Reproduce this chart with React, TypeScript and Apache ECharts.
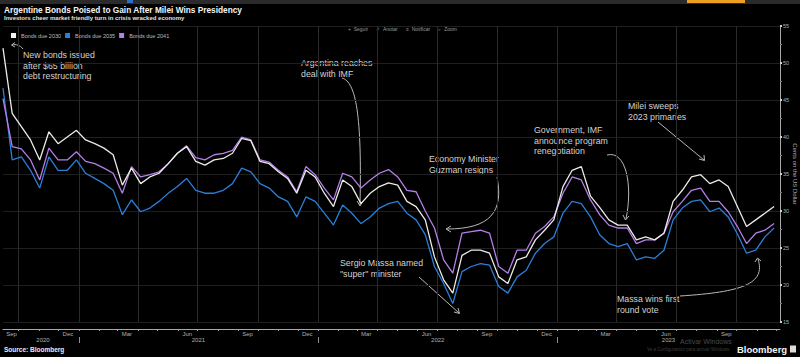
import React, { useEffect, useRef } from 'react';
import * as echarts from 'echarts';

// ---- data ----
const startDate = '2020-09-07';
const stepDays = 14;
const bonds2030 = [52.0, 43.2, 41.4, 39.6, 36.9, 40.7, 39.1, 40.0, 40.9, 39.6, 39.1, 38.5, 37.6, 33.5, 35.8, 33.7, 34.6, 35.1, 36.4, 37.8, 38.7, 36.7, 36.2, 36.9, 37.1, 37.8, 39.8, 39.5, 36.7, 36.4, 35.3, 34.4, 32.4, 35.5, 34.6, 32.4, 30.6, 34.2, 33.3, 31.0, 32.4, 33.3, 33.8, 33.5, 31.3, 30.6, 28.8, 23.8, 20.7, 18.9, 24.0, 24.7, 24.7, 24.3, 21.1, 20.2, 23.4, 23.8, 26.1, 27.4, 28.8, 33.3, 35.5, 36.0, 32.0, 30.5, 28.8, 28.1, 28.1, 26.1, 26.5, 26.1, 27.0, 31.3, 32.8, 34.6, 34.9, 33.7, 34.2, 33.3, 30.6, 27.9, 28.8, 29.7, 30.6];
const bonds2035 = [46.6, 36.9, 37.3, 35.5, 33.1, 37.3, 35.5, 35.5, 36.9, 35.1, 34.4, 33.7, 32.8, 29.5, 31.5, 29.9, 30.4, 31.3, 32.4, 33.3, 34.4, 32.8, 32.4, 32.4, 32.8, 33.7, 35.8, 35.3, 33.7, 33.1, 31.9, 31.3, 29.2, 31.9, 31.3, 29.7, 28.1, 30.8, 29.7, 28.3, 29.2, 30.4, 31.0, 31.3, 29.7, 28.8, 26.8, 22.5, 20.2, 17.5, 21.8, 22.5, 22.9, 22.7, 19.8, 18.9, 21.1, 22.0, 24.3, 25.6, 26.5, 29.7, 31.3, 31.0, 29.2, 26.8, 25.6, 25.2, 25.6, 23.4, 23.8, 23.6, 24.7, 28.8, 30.4, 31.3, 31.5, 29.9, 30.4, 29.2, 26.9, 24.3, 24.7, 26.5, 27.7];
const bonds2041 = [45.2, 38.7, 38.4, 36.9, 34.2, 38.5, 36.9, 36.9, 38.0, 36.7, 36.4, 35.8, 35.1, 32.4, 36.0, 34.6, 34.9, 35.3, 36.4, 37.8, 38.8, 37.2, 36.9, 37.6, 37.8, 38.2, 40.0, 39.6, 36.9, 36.6, 35.5, 34.6, 32.6, 36.0, 34.9, 33.1, 31.5, 35.1, 34.6, 33.1, 34.2, 35.1, 35.6, 34.6, 32.8, 32.6, 30.0, 27.7, 23.4, 21.6, 27.0, 27.2, 27.4, 27.0, 22.5, 21.6, 24.7, 24.7, 27.0, 27.9, 29.2, 32.4, 34.6, 34.2, 31.5, 29.5, 28.1, 27.7, 27.7, 25.6, 26.1, 26.1, 27.0, 29.9, 31.3, 32.8, 33.1, 31.3, 31.3, 29.9, 27.9, 25.6, 27.0, 27.4, 28.3];
const seriesNames = ['Bonds due 2030', 'Bonds due 2035', 'Bonds due 2041'];

const axisMin = '2020-09-07';
const axisMax = '2023-12-06';
const monthLabelDates = ['2020-09-20', '2020-12-15', '2021-03-15', '2021-06-15', '2021-09-15', '2021-12-15', '2022-03-15', '2022-06-15', '2022-09-15', '2022-12-15', '2023-03-15', '2023-06-15', '2023-09-15'];
const monthNames = ['Jan', 'Feb', 'Mar', 'Apr', 'May', 'Jun', 'Jul', 'Aug', 'Sep', 'Oct', 'Nov', 'Dec'];
const yearLabelDates = ['2020-11-07', '2021-07-02', '2022-07-02', '2023-06-19'];
const yearStartDates = ['2021-01-01', '2022-01-01', '2023-01-01'];
const quarterStartDates = ['2020-10-01', '2021-01-01', '2021-04-01', '2021-07-01', '2021-10-01', '2022-01-01', '2022-04-01', '2022-07-01', '2022-10-01', '2023-01-01', '2023-04-01', '2023-07-01', '2023-10-01'];
const yMin = 15;
const yMax = 55;
const yStep = 5;

const ts = (s: string) => {
  const [y, m, d] = s.split('-').map(Number);
  return new Date(y, m - 1, d).getTime();
};

const dates = bonds2030.map((_, i) => {
  const [y, m, d] = startDate.split('-').map(Number);
  return new Date(y, m - 1, d + i * stepDays).getTime();
});

const monthStarts: number[] = [];
for (let y = 2020; y <= 2023; y++) {
  for (let m = 0; m < 12; m++) {
    const t = new Date(y, m, 1).getTime();
    if (t > ts(axisMin) && t < ts(axisMax)) monthStarts.push(t);
  }
}

const FONT = '"Liberation Sans", Arial, sans-serif';
const ANN = '#d2d2d2';
const LINE = '#b8b8b8';

const annText = (x: number, y: number, text: string) => ({
  type: 'text',
  x,
  y,
  silent: true,
  style: { text, fill: ANN, fontSize: 8.8, fontFamily: FONT, lineHeight: 10.7, verticalAlign: 'top' },
});
const curve = (x1: number, y1: number, cpx1: number, cpy1: number, cpx2: number, cpy2: number, x2: number, y2: number) => ({
  type: 'bezierCurve',
  silent: true,
  shape: { x1, y1, cpx1, cpy1, cpx2, cpy2, x2, y2 },
  style: { stroke: LINE, lineWidth: 1, fill: 'none' },
});
const seg = (x1: number, y1: number, x2: number, y2: number) => ({
  type: 'line',
  silent: true,
  shape: { x1, y1, x2, y2 },
  style: { stroke: LINE, lineWidth: 1 },
});
const head = (pts: number[][]) => ({
  type: 'polyline',
  silent: true,
  shape: { points: pts },
  style: { stroke: LINE, lineWidth: 1, fill: 'none' },
});

export default function App() {
  const ref = useRef<HTMLDivElement>(null);
  useEffect(() => {
    if (!ref.current) return;
    const chart = echarts.init(ref.current, null, { renderer: 'svg' });
    const mk = (vals: number[]) => vals.map((v, i) => [dates[i], v]);
    const xBase = { type: 'value', min: ts(axisMin), max: ts(axisMax), scale: true };
    chart.setOption({
      animation: false,
      backgroundColor: '#000000',
      textStyle: { fontFamily: FONT },
      grid: { left: 3, right: 20, top: 26, bottom: 35, containLabel: false, outerBoundsMode: 'none' },
      legend: {
        data: seriesNames,
        left: 6,
        top: 27.5,
        icon: 'rect',
        itemWidth: 5,
        itemHeight: 5,
        itemGap: 4,
        textStyle: { color: '#bdbdbd', fontSize: 5.5, fontFamily: FONT },
      },
      xAxis: [
        {
          ...xBase,
          offset: 7,
          axisLine: { show: true, lineStyle: { color: '#a8a8a8', width: 1 } },
          axisTick: { show: true, customValues: monthStarts, length: 2, lineStyle: { color: '#a0a0a0' } },
          axisLabel: {
            customValues: monthLabelDates.map(ts),
            formatter: (v: number) => monthNames[new Date(v).getMonth()],
            color: '#b0b0b0',
            fontSize: 6,
            margin: 2,
            fontFamily: FONT,
          },
          splitLine: { show: false },
        },
        {
          ...xBase,
          position: 'bottom',
          offset: 15,
          axisLine: { show: false },
          axisTick: { show: true, customValues: yearStartDates.map(ts), length: 6, lineStyle: { color: '#909090' } },
          axisLabel: {
            customValues: yearLabelDates.map(ts),
            formatter: (v: number) => String(new Date(v).getFullYear()),
            color: '#b0b0b0',
            fontSize: 6,
            margin: 0,
            fontFamily: FONT,
          },
          splitLine: { show: false },
        },
        {
          ...xBase,
          position: 'bottom',
          axisLine: { show: false },
          axisTick: { show: false, customValues: quarterStartDates.map(ts) },
          axisLabel: { show: false },
          splitLine: { show: true, lineStyle: { color: '#2a2a2a', width: 1 } },
        },
      ],
      yAxis: {
        type: 'value',
        position: 'right',
        min: yMin,
        max: yMax,
        interval: yStep,
        name: 'Cents on the US Dollar',
        nameLocation: 'middle',
        nameGap: 12,
        nameMoveOverlap: false,
        nameRotate: -90,
        nameTextStyle: { color: '#b0b0b0', fontSize: 6, fontFamily: FONT },
        axisLine: { show: true, lineStyle: { color: '#a8a8a8' } },
        axisTick: { show: true, length: 2, lineStyle: { color: '#d0d0d0', width: 2 } },
        minorTick: { show: true, splitNumber: 2, length: 2, lineStyle: { color: '#777' } },
        axisLabel: { color: '#b0b0b0', fontSize: 5.5, margin: 3, fontFamily: FONT },
        splitLine: { show: true, lineStyle: { color: '#1f1f1f', width: 1 } },
      },
      series: [
        {
          name: 'Bonds due 2035',
          type: 'line',
          data: mk(bonds2035),
          showSymbol: false,
          symbol: 'none',
          lineStyle: { color: '#2a7fd8', width: 1.3 },
          itemStyle: { color: '#2a7fd8' },
        },
        {
          name: 'Bonds due 2041',
          type: 'line',
          data: mk(bonds2041),
          showSymbol: false,
          symbol: 'none',
          lineStyle: { color: '#b57fe8', width: 1.3 },
          itemStyle: { color: '#b57fe8' },
        },
        {
          name: 'Bonds due 2030',
          type: 'line',
          data: mk(bonds2030),
          showSymbol: false,
          symbol: 'none',
          lineStyle: { color: '#ecebe4', width: 1.3 },
          itemStyle: { color: '#f2f2f2' },
        },
      ],
      graphic: [
        { type: 'rect', silent: true, shape: { x: 0, y: 0, width: 800, height: 4 }, style: { fill: '#2b2b2b' } },
        { type: 'rect', silent: true, shape: { x: 127, y: 0, width: 6, height: 3 }, style: { fill: '#2f6fc8' } },
        { type: 'rect', silent: true, shape: { x: 687, y: 0, width: 58, height: 3 }, style: { fill: '#f0a020' } },
        { type: 'text', x: 4, y: 10, silent: true, style: { text: 'Argentine Bonds Poised to Gain After Milei Wins Presidency', fill: '#f4f4f4', fontSize: 8.3, fontWeight: 'bold', fontFamily: FONT, verticalAlign: 'middle' } },
        { type: 'text', x: 4, y: 17.5, silent: true, style: { text: 'Investors cheer market friendly turn in crisis wracked economy', fill: '#e0e0e0', fontSize: 6, fontWeight: 'bold', fontFamily: FONT, verticalAlign: 'middle' } },
        { type: 'text', x: 348, y: 28.5, silent: true, style: { text: '+  Seguir      \u2713  Anotar      \u2261  Notificar      \u2315  Zoom', fill: '#9a9a9a', fontSize: 5, fontFamily: FONT, verticalAlign: 'middle' } },
        annText(23, 49.5, 'New bonds issued\nafter $65 billion\ndebt restructuring'),
        curve(23, 49, 20, 45, 16, 44, 12, 45),
        head([[15, 42.5], [11.5, 45], [15, 47]]),
        annText(301, 57.5, 'Argentina reaches\ndeal with IMF'),
        curve(342, 78, 356, 82, 362, 115, 360, 205),
        head([[357, 201], [360, 206], [363, 201]]),
        annText(429, 154, 'Economy Minister\nGuzman resigns'),
        curve(497, 177, 504, 212, 490, 229, 447, 229),
        head([[451, 226], [446, 229], [451, 232]]),
        annText(534, 124.7, 'Government, IMF\nannounce program\nrenegotiation'),
        curve(607, 155, 626, 150, 633, 185, 626, 219),
        head([[623, 215], [625.5, 220], [629, 216]]),
        annText(628, 100.7, 'Milei sweeps\n2023 primaries'),
        seg(658, 122, 704, 160),
        head([[699, 159], [704.5, 160.5], [704, 155]]),
        annText(617, 293.7, 'Massa wins first\nround vote'),
        curve(680, 296, 742, 292, 766, 284, 758, 259),
        head([[755, 262], [757.5, 258], [761, 261]]),
        annText(340, 257.7, 'Sergio Massa named\n"super" minister'),
        seg(419, 277, 459, 313),
        head([[454, 312], [459.5, 313.5], [458, 308]]),
        { type: 'text', x: 4, y: 349.5, silent: true, style: { text: 'Source: Bloomberg', fill: '#ececec', fontSize: 6.5, fontWeight: 'bold', fontFamily: FONT, verticalAlign: 'middle' } },
        { type: 'text', x: 680, y: 341.5, silent: true, style: { text: 'Activar Windows', fill: '#4a4a4a', fontSize: 7, fontFamily: FONT, verticalAlign: 'middle' } },
        { type: 'text', x: 647, y: 349, silent: true, style: { text: 'Ve a Configuración para activar Windows.', fill: '#3c3c3c', fontSize: 4.5, fontFamily: FONT, verticalAlign: 'middle' } },
        { type: 'text', x: 737, y: 349.5, silent: true, style: { text: 'Bloomberg', fill: '#f4f4f4', fontSize: 9.5, fontWeight: 'bold', fontFamily: FONT, verticalAlign: 'middle' } },
        { type: 'rect', silent: true, shape: { x: 790, y: 345.5, width: 6, height: 7 }, style: { fill: '#dcdcdc' } },
      ],
    });
    return () => chart.dispose();
  }, []);
  return <div ref={ref} style={{ width: 800, height: 357, position: 'absolute', left: 0, top: 0 }} />;
}
